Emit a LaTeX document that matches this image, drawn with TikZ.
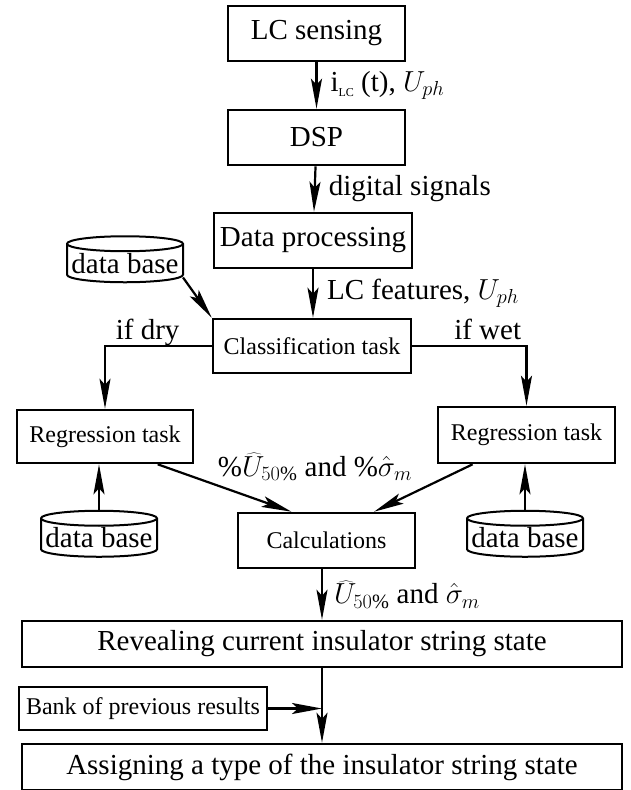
\documentclass[tikz,border=0pt]{standalone}
\RequirePackage{fix-cm}
\usepackage{fontspec}
\setmainfont{Liberation Serif}
\newfontfamily\timesfont{Liberation Serif}
\usepackage{tikz}
\usetikzlibrary{shapes.geometric,arrows.meta,calc}

\begin{document}
\begin{tikzpicture}[x=1pt, y=-1pt,
    box/.style={draw, line width=2.6pt, minimum width=177pt, minimum height=55pt, inner sep=0pt, font=\timesfont\fontsize{29}{33}\selectfont},
    smallbox/.style={box, font=\timesfont\fontsize{24}{28}\selectfont},
    dbase/.style={draw, line width=2pt, cylinder, shape border rotate=90, aspect=0.14, minimum width=116pt, minimum height=46pt, inner sep=0pt, font=\timesfont\fontsize{29}{33}\selectfont},
    lbl/.style={inner sep=0pt, font=\timesfont\fontsize{29}{33}\selectfont},
    arr/.style={line width=2.2pt, -{Stealth[length=30pt, width=11pt, inset=6pt]}}]
    \useasboundingbox (0,0) rectangle (631,790);

    % Chain at the top
    \node[box] (sense) at (316.5,33.5) {LC sensing};
    \node[box] (dsp) at (316.5,137.5) {DSP};
    \node[box, minimum width=198pt] (proc) at (313,240.5) {Data processing};
    \node[smallbox, minimum width=198pt, minimum height=54pt] (cls) at (312,346) {Classification task};
    \node[dbase] (dbTop) at (125,263.5) {data base};

    \draw[arr] (sense) -- node[lbl, right, xshift=13pt] {i\raisebox{-5pt}{\fontsize{12}{12}\selectfont LC} (t), $U_{ph}$} (dsp);
    \draw[arr] (dsp) -- node[lbl, right, xshift=13pt] {digital signals} (proc);
    \draw[arr] (proc.south) -- node[lbl, right, xshift=13pt] {LC features, $U_{ph}$} (proc.south |- cls.north);
    \draw[arr] ($(dbTop.east)+(-1,14)$) -- (cls.north west);

    % Two regression branches
    \node[smallbox, minimum width=176pt, minimum height=53pt] (regL) at (105,436.5) {Regression task};
    \node[smallbox, minimum height=56pt] (regR) at (526.5,435) {Regression task};
    \node[dbase] (dbL) at (99,538) {data base};
    \node[dbase] (dbR) at (525,538) {data base};

    \draw[arr] (cls.west) -| node[lbl, anchor=base, pos=0.3, yshift=7pt] {if dry} (regL.north);
    \draw[arr] (cls.east) -| node[lbl, anchor=base, pos=0.33, yshift=7pt] {if wet} (regR.north);
    \draw[arr] (dbL.north) -- (dbL.north |- regL.south);
    \draw[arr] (dbR.north) -- (dbR.north |- regR.south);

    % Calculations
    \node[smallbox] (calc) at (326.5,540.5) {Calculations};
    \node[lbl] (pct) at (315,467) {\%$\widehat{U}_{50\%}$ and \%$\hat{\sigma}_m$};
    \draw[arr] ($(regL.south)!0.59!(regL.south east)$) -- ($(calc.north)!0.39!(calc.north west)$);
    \draw[arr] ($(regR.south)!0.6!(regR.south west)$) -- ($(calc.north)!0.53!(calc.north east)$);

    % State of the string
    \node[box, minimum width=600pt, minimum height=46pt] (reveal) at (322,644) {Revealing current insulator string state};
    \node[smallbox, minimum width=248pt, minimum height=43pt] (bank) at (143,708.5) {Bank of previous results};
    \node[box, minimum width=600pt, minimum height=46pt] (assign) at (322,767) {Assigning a type of the insulator string state};

    \draw[arr] (reveal.north |- calc.south) -- node[lbl, right, xshift=11pt] {$\widehat{U}_{50\%}$ and $\hat{\sigma}_m$} (reveal.north);
    \draw[arr] (reveal) -- (assign);
    \draw[arr] (bank.east) -- (bank.east -| reveal.south);
\end{tikzpicture}
\end{document}
